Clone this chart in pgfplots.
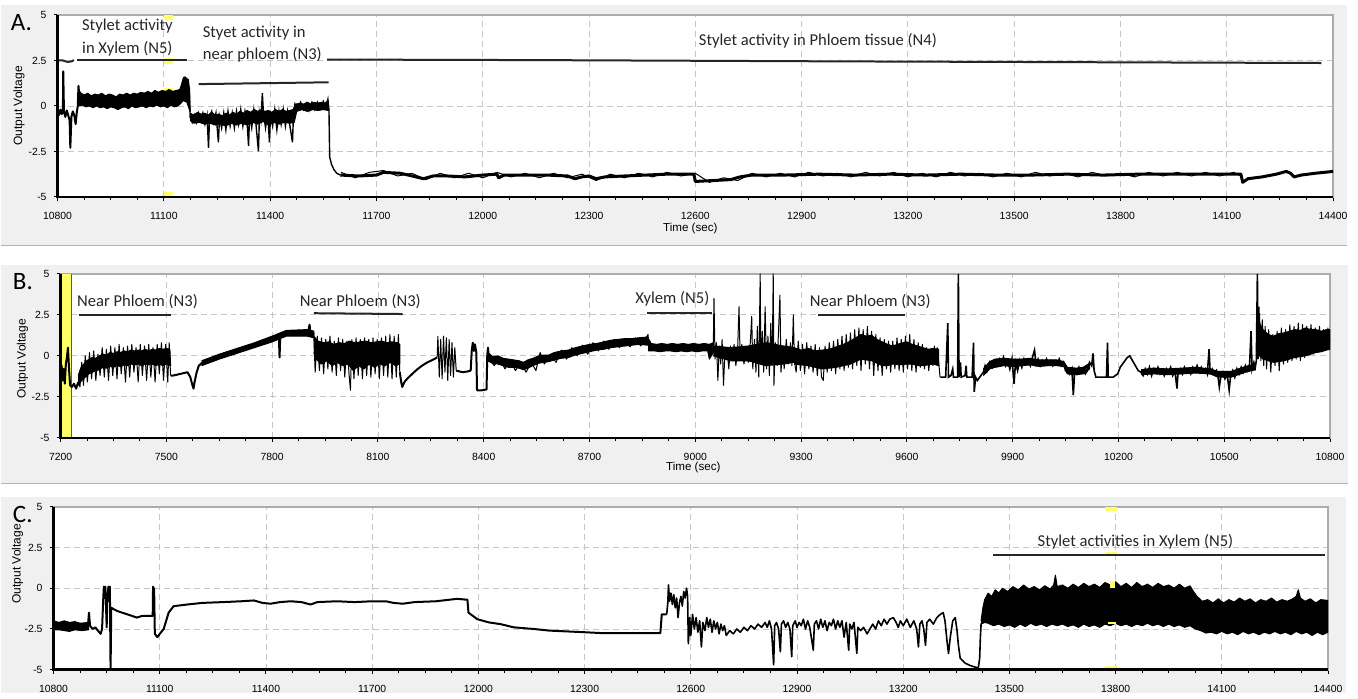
\documentclass[border=0pt]{standalone}
\usepackage{pgfplots}
\pgfplotsset{compat=1.18}
\usepackage{fontspec}
\setmainfont{Carlito}
\newfontfamily\arialf{Liberation Sans}

\definecolor{panelgray}{HTML}{F0F0F0}
\definecolor{cursor}{HTML}{FFFF66}

\tikzset{notext/.style={font=\fontsize{8.3}{11.2}\selectfont, text=black!85}}
\pgfplotsset{
  epg/.style={
    scale only axis, anchor=south west,
    ymin=-5, ymax=5,
    ytick={-5,-2.5,0,2.5,5},
    yticklabels={-5,-2.5,0,2.5,5},
    scaled x ticks=false, scaled y ticks=false,
    tick pos=left, tick align=outside,
    major tick length=2pt, minor tick length=1.5pt,
    minor x tick num=3,
    tick style={black, line width=0.5pt},
    grid=major,
    major grid style={densely dashed, gray!45, line width=0.4pt},
    axis line style={gray!65, line width=1pt},
    axis background/.style={fill=white},
    ticklabel style={font=\arialf\fontsize{5.2}{6}\selectfont},
    xticklabel style={yshift=-2pt},
  },
  trace/.style={black, line width=1pt, line join=round},
  thin/.style={black, line width=0.5pt, line join=round},
  band/.style={black, fill=black, line width=0.5pt, line join=round},
  note/.style={black!85, line width=1pt},
  yel/.style={fill=cursor, draw=none},
}

\begin{document}
\begin{tikzpicture}
\fill[white] (0,0) rectangle (679pt,346.5pt);
\fill[panelgray] (0,224pt) rectangle (673.5pt,344pt);
\fill[panelgray] (0,105pt) rectangle (674pt,214pt);
\fill[panelgray] (0,0) rectangle (673pt,98pt);
\draw[gray!60, line width=0.6pt] (0,223.5pt) -- (673.5pt,223.5pt);
\draw[gray!60, line width=0.6pt] (0,104.5pt) -- (674pt,104.5pt);

% ---------------- Panel A ----------------
\begin{axis}[epg, name=A, at={(28.5pt,248pt)}, width=638pt, height=91pt,
  xmin=10800, xmax=14400,
  xtick={10800,11100,...,14400},
  xticklabels={10800,11100,11400,11700,12000,12300,12600,12900,13200,13500,13800,14100,14400}]
\addplot[yel] coordinates {(11099,4.75)(11127,4.75)(11127,5)(11099,5)};
\addplot[yel] coordinates {(11099,2.3)(11127,2.3)(11127,2.65)(11099,2.65)};
\addplot[yel] coordinates {(11099,0.75)(11127,0.75)(11127,1.0)(11099,1.0)};
\addplot[yel] coordinates {(11099,-5)(11127,-5)(11127,-4.75)(11099,-4.75)};
% xylem (N5) band
\addplot[band] coordinates {
(10859,0.9)(10866,0.7)(10875,0.6)(10885,0.7)(10895,0.55)(10905,0.65)(10915,0.6)(10925,0.7)(10935,0.55)(10945,0.65)
(10955,0.6)(10965,0.5)(10975,0.65)(10985,0.6)(10995,0.7)(11005,0.6)(11015,0.7)(11025,0.65)(11035,0.75)(11045,0.7)
(11055,0.8)(11065,0.7)(11075,0.85)(11085,0.75)(11095,0.85)(11105,0.8)(11115,0.9)(11125,0.8)(11135,0.85)(11145,0.9)
(11150,1.2)(11155,1.55)(11160,1.6)(11165,1.5)(11169,1.45)(11172,1.0)(11174,-0.3)
(11172,-0.2)(11165,0.2)(11155,0.3)(11148,0.15)(11140,0.0)(11130,-0.05)(11120,0.05)(11110,-0.1)(11100,0.0)(11090,-0.05)
(11080,0.05)(11070,-0.05)(11060,0.0)(11050,-0.1)(11040,0.0)(11030,-0.05)(11020,-0.1)(11010,0.0)(11000,-0.15)(10990,-0.05)
(10980,-0.1)(10970,-0.2)(10960,-0.1)(10950,-0.05)(10940,-0.15)(10930,-0.05)(10920,-0.1)(10910,0.0)(10900,-0.1)(10890,0.0)
(10880,-0.05)(10870,0.05)(10860,0.0)};
% near phloem (N3) core
\addplot[band] coordinates {
(11174,-0.4)(11185,-0.5)(11195,-0.35)(11205,-0.45)(11215,-0.4)(11225,-0.5)(11235,-0.35)(11245,-0.5)(11255,-0.45)(11265,-0.55)
(11275,-0.4)(11285,-0.5)(11295,-0.35)(11305,-0.45)(11315,-0.3)(11325,-0.4)(11335,-0.25)(11345,-0.35)(11355,-0.2)(11365,-0.3)
(11375,-0.2)(11385,-0.3)(11395,-0.25)(11405,-0.35)(11415,-0.2)(11425,-0.3)(11435,-0.2)(11445,-0.3)(11455,-0.25)(11465,-0.2)
(11472,0.1)(11485,0.15)(11495,0.1)(11505,0.2)(11515,0.1)(11525,0.2)(11535,0.15)(11545,0.2)(11555,0.15)(11563,0.3)
(11565,-0.25)(11550,-0.2)(11535,-0.25)(11520,-0.2)(11505,-0.3)(11490,-0.2)(11475,-0.3)(11468,-0.9)(11455,-0.95)(11440,-0.9)
(11425,-1.0)(11410,-0.9)(11395,-1.05)(11380,-0.85)(11365,-1.0)(11350,-0.9)(11335,-1.05)(11320,-0.95)(11305,-1.05)(11290,-0.95)
(11275,-1.1)(11260,-1.0)(11245,-1.05)(11230,-0.95)(11215,-1.0)(11200,-0.9)(11185,-0.95)(11174,-0.8)};
\addplot[trace] coordinates {
(10800,-0.3)(10804,-0.5)(10808,-0.2)(10812,-0.45)(10815,-0.3)(10816,1.9)(10818,-0.3)(10822,-0.6)(10826,-0.25)(10830,-0.5)
(10834,-0.8)(10836,-2.3)(10839,-0.6)(10843,-0.3)(10847,-0.5)(10851,-1.0)(10854,-0.4)(10857,0.0)(10859,1.1)(10862,0.4)};
\addplot[black, line width=0.7pt] coordinates {
(11172,1.0)(11174,-0.6)(11180,-0.9)(11186,-0.5)(11192,-0.9)(11198,-0.4)(11204,-0.8)(11210,-0.4)(11216,-1.0)(11222,-0.5)
(11226,-2.3)(11229,-0.6)(11235,-0.3)(11241,-0.9)(11247,-0.4)(11254,-2.0)(11257,-0.6)(11263,-1.2)(11269,-0.4)(11275,-1.3)
(11281,-0.3)(11287,-1.1)(11293,-0.4)(11299,-1.2)(11305,-0.3)(11311,-1.0)(11317,-0.2)(11323,-1.1)(11329,-0.3)(11335,-0.9)
(11339,-2.2)(11342,-0.5)(11348,-1.2)(11354,-0.2)(11360,-1.0)(11367,-2.5)(11370,-0.4)(11374,-0.8)(11378,0.7)(11381,-0.4)
(11387,-1.2)(11393,-0.3)(11398,-2.0)(11401,-0.5)(11407,-1.1)(11413,-0.2)(11419,-1.3)(11425,-0.3)(11431,-1.0)(11437,-0.2)
(11443,-1.1)(11449,-0.3)(11455,-1.0)(11463,-2.0)(11466,-0.4)(11470,0.1)(11478,-0.2)(11486,0.2)(11494,-0.2)(11502,0.15)
(11510,-0.25)(11518,0.2)(11526,-0.2)(11534,0.2)(11542,-0.15)(11550,0.25)(11558,-0.1)(11563,0.35)(11566,-0.2)(11568,-2.8)
(11573,-3.2)(11580,-3.5)(11588,-3.7)(11598,-3.8)};
\addplot[black, line width=1.5pt, line join=round] coordinates {
(11598,-3.8)(11650,-3.85)(11700,-3.8)(11720,-3.65)(11767,-3.7)(11790,-3.8)(11833,-4.0)(11860,-3.85)(11900,-3.85)(11950,-3.9)
(12000,-3.8)(12040,-3.75)(12045,-3.95)(12060,-3.8)(12120,-3.8)(12180,-3.8)(12240,-3.85)(12260,-4.0)(12280,-3.9)(12300,-3.85)
(12320,-4.0)(12345,-3.9)(12400,-3.85)(12460,-3.8)(12520,-3.75)(12596,-3.75)(12600,-4.15)(12650,-4.1)(12700,-4.05)(12726,-3.9)
(12760,-3.8)(12850,-3.8)(12950,-3.75)(13050,-3.8)(13150,-3.75)(13250,-3.8)(13350,-3.75)(13450,-3.8)(13550,-3.8)(13650,-3.75)
(13750,-3.8)(13850,-3.75)(13950,-3.75)(14050,-3.75)(14140,-3.75)(14145,-4.2)(14160,-4.0)(14200,-3.9)(14240,-3.75)(14268,-3.6)
(14280,-3.7)(14290,-3.9)(14310,-3.8)(14350,-3.7)(14400,-3.6)};
\addplot[thin] coordinates {
(11600,-3.65)(11640,-3.95)(11680,-3.65)(11720,-3.55)(11760,-3.85)(11800,-3.7)(11840,-4.05)(11880,-3.7)(11920,-3.95)(11960,-3.7)
(12000,-3.95)(12040,-3.65)(12080,-3.9)(12120,-3.7)(12160,-3.95)(12200,-3.7)(12240,-3.95)(12280,-3.75)(12320,-4.1)(12360,-3.75)
(12400,-3.95)(12440,-3.7)(12480,-3.9)(12520,-3.65)(12560,-3.85)(12600,-3.7)(12640,-4.2)(12680,-3.95)(12720,-4.1)(12760,-3.7)
(12800,-3.9)(12840,-3.7)(12880,-3.9)(12920,-3.65)(12960,-3.85)(13000,-3.7)(13040,-3.9)(13080,-3.65)(13120,-3.85)(13160,-3.65)
(13200,-3.9)(13240,-3.7)(13280,-3.9)(13320,-3.65)(13360,-3.85)(13400,-3.7)(13440,-3.9)(13480,-3.7)(13520,-3.9)(13560,-3.65)
(13600,-3.85)(13640,-3.7)(13680,-3.9)(13720,-3.65)(13760,-3.85)(13800,-3.7)(13840,-3.9)(13880,-3.65)(13920,-3.85)(13960,-3.65)
(14000,-3.85)(14040,-3.65)(14080,-3.85)(14120,-3.65)(14140,-3.85)};
\addplot[note] coordinates {(10800,2.5)(10815,2.5)(10828,2.42)(10840,2.45)(10846,2.52)};
\addplot[note] coordinates {(10856,2.5)(11166,2.5)};
\addplot[note] coordinates {(11198,1.2)(11565,1.3)};
\addplot[note] coordinates {(11561,2.55)(12150,2.52)(13000,2.45)(14367,2.36)};
\node[notext, align=center] at (axis cs:10997,3.75) {Stylet activity\\in Xylem (N5)};
\node[notext, align=left, anchor=west] at (axis cs:11190,3.4) {Styet activity in\\near phloem (N3)};
\node[notext] at (axis cs:12946,3.57) {Stylet activity in Phloem tissue (N4)};
\end{axis}
\draw[black, line width=1.3pt] (A.north west) -- (A.south west) -- (A.south east);

% ---------------- Panel B ----------------
\begin{axis}[epg, name=B, at={(30pt,127.5pt)}, width=635pt, height=82pt,
  xmin=7200, xmax=10800,
  xtick={7200,7500,...,10800},
  xticklabels={7200,7500,7800,8100,8400,8700,9000,9300,9600,9900,10200,10500,10800}]
\addplot[yel] coordinates {(7200,-5)(7231,-5)(7231,5)(7200,5)};
\addplot[gray!70!black, line width=0.6pt] coordinates {(7231,-5)(7231,5)};
% bands
\addplot[band] coordinates {
(7250,-1.2)(7258,-0.7)(7266,-0.5)(7274,-0.3)(7282,-0.2)(7290,-0.1)(7300,-0.15)(7310,0.0)(7320,0.1)(7330,0.05)
(7340,0.2)(7350,0.15)(7360,0.25)(7370,0.2)(7380,0.3)(7390,0.25)(7400,0.35)(7410,0.3)(7420,0.35)(7430,0.3)
(7440,0.4)(7450,0.3)(7460,0.4)(7470,0.35)(7480,0.45)(7490,0.4)(7500,0.45)(7510,0.4)
(7512,-0.6)(7500,-0.5)(7490,-0.6)(7480,-0.5)(7470,-0.6)(7460,-0.5)(7450,-0.55)(7440,-0.5)(7430,-0.6)(7420,-0.5)
(7410,-0.55)(7400,-0.5)(7390,-0.6)(7380,-0.55)(7370,-0.65)(7360,-0.6)(7350,-0.7)(7340,-0.65)(7330,-0.75)(7320,-0.7)
(7310,-0.85)(7300,-0.9)(7290,-1.0)(7280,-1.1)(7270,-1.3)(7260,-1.5)(7250,-1.8)};
\addplot[band] coordinates {
(7600,-0.3)(7650,0.1)(7700,0.45)(7750,0.8)(7800,1.2)(7840,1.55)(7900,1.6)(7918,1.5)
(7918,1.1)(7900,1.2)(7840,1.2)(7800,0.85)(7750,0.5)(7700,0.15)(7650,-0.2)(7600,-0.6)};
\addplot[band] coordinates {
(7918,1.2)(7930,0.9)(7945,0.8)(7960,0.85)(7975,0.7)(7990,0.8)(8005,0.75)(8020,0.9)(8035,0.8)(8050,0.85)
(8065,0.9)(8080,0.8)(8095,0.85)(8110,0.9)(8125,0.8)(8140,0.85)(8155,0.8)(8162,0.7)
(8162,-0.5)(8150,-0.6)(8135,-0.4)(8120,-0.6)(8105,-0.5)(8090,-0.7)(8075,-0.5)(8060,-0.8)(8045,-0.6)(8030,-0.9)
(8015,-0.5)(8000,-0.6)(7985,-0.4)(7970,-0.6)(7955,-0.3)(7940,-0.5)(7925,-0.2)(7918,0.2)};
\addplot[band] coordinates {
(8410,0.25)(8425,-0.05)(8440,0.0)(8455,-0.15)(8470,-0.2)(8485,-0.25)(8500,-0.3)(8513,-0.4)(8525,-0.25)(8540,-0.15)
(8555,0.0)(8570,0.05)(8585,0.05)(8600,0.2)(8620,0.3)(8640,0.35)(8660,0.5)(8680,0.6)(8700,0.7)(8720,0.75)
(8740,0.85)(8760,0.95)(8780,1.0)(8800,1.05)(8820,1.05)(8840,1.1)(8866,1.15)
(8866,0.65)(8840,0.7)(8820,0.65)(8800,0.6)(8780,0.55)(8760,0.5)(8740,0.4)(8720,0.35)(8700,0.25)(8680,0.15)
(8660,0.05)(8640,-0.1)(8620,-0.15)(8600,-0.25)(8585,-0.35)(8570,-0.4)(8555,-0.45)(8540,-0.6)(8525,-0.75)(8513,-0.85)
(8500,-0.75)(8485,-0.7)(8470,-0.7)(8455,-0.6)(8440,-0.5)(8425,-0.45)(8410,-0.3)};
\addplot[band] coordinates {
(8866,1.1)(8875,0.75)(8890,0.7)(8905,0.75)(8920,0.7)(8935,0.75)(8950,0.7)(8965,0.75)(8980,0.7)(8995,0.75)
(9010,0.7)(9025,0.75)(9040,0.7)(9051,0.8)
(9051,0.2)(9040,-0.2)(9035,0.3)(9020,0.3)(9005,0.25)(8990,0.3)(8975,0.25)(8960,0.3)(8945,0.25)(8930,0.3)
(8915,0.3)(8900,0.25)(8885,0.3)(8866,0.3)};
\addplot[band] coordinates {
(9051,0.6)(9100,0.5)(9150,0.6)(9200,0.8)(9250,0.6)(9280,0.5)
(9280,-0.4)(9250,-0.5)(9200,-0.6)(9150,-0.3)(9100,-0.3)(9051,0.0)};
\addplot[band] coordinates {
(9280,0.5)(9300,0.35)(9320,0.45)(9340,0.3)(9360,0.35)(9380,0.4)(9400,0.55)(9420,0.7)(9440,0.9)(9455,1.1)
(9470,1.3)(9485,1.2)(9500,1.25)(9515,1.0)(9530,0.85)(9545,0.7)(9560,0.6)(9580,0.75)(9600,0.85)(9615,0.7)
(9630,0.6)(9645,0.5)(9660,0.4)(9675,0.45)(9690,0.4)
(9690,-0.6)(9675,-0.5)(9660,-0.55)(9645,-0.6)(9630,-0.6)(9615,-0.5)(9600,-0.5)(9580,-0.55)(9560,-0.5)(9545,-0.6)
(9530,-0.6)(9515,-0.45)(9500,-0.3)(9485,-0.25)(9470,-0.2)(9455,-0.35)(9440,-0.5)(9420,-0.6)(9400,-0.7)(9380,-0.75)
(9360,-0.8)(9340,-0.7)(9320,-0.6)(9300,-0.55)(9280,-0.5)};
\addplot[band] coordinates {
(9817,-0.8)(9835,-0.35)(9850,-0.2)(9875,-0.15)(9900,-0.2)(9925,-0.2)(9950,-0.15)(9975,-0.25)(10000,-0.25)(10025,-0.25)
(10045,-0.35)(10055,-0.7)(10080,-0.75)(10100,-0.7)(10118,-0.45)
(10118,-0.8)(10100,-1.1)(10080,-1.15)(10055,-1.1)(10045,-0.65)(10025,-0.6)(10000,-0.6)(9975,-0.65)(9950,-0.55)(9925,-0.6)
(9900,-0.65)(9875,-0.6)(9850,-0.7)(9835,-0.8)(9817,-1.2)};
\addplot[band] coordinates {
(10264,-0.85)(10300,-0.75)(10340,-0.8)(10380,-0.75)(10420,-0.7)(10460,-0.8)(10482,-0.95)(10520,-0.95)(10560,-0.65)(10588,-0.5)
(10588,-0.85)(10560,-1.0)(10520,-1.3)(10482,-1.3)(10460,-1.1)(10420,-1.05)(10380,-1.1)(10340,-1.15)(10300,-1.1)(10264,-1.15)};
\addplot[band] coordinates {
(10600,2.0)(10610,1.6)(10625,1.3)(10640,1.2)(10655,1.35)(10670,1.4)(10685,1.5)(10700,1.6)(10715,1.55)(10730,1.7)
(10745,1.6)(10760,1.6)(10775,1.5)(10790,1.6)(10800,1.6)
(10800,0.4)(10790,0.35)(10775,0.25)(10760,0.2)(10745,0.1)(10730,0.0)(10715,-0.05)(10700,-0.1)(10685,-0.2)(10670,-0.3)
(10655,-0.35)(10640,-0.4)(10625,-0.3)(10610,-0.2)(10600,0.0)};
% slow parts of the trace
\addplot[trace] coordinates {
(7200,-1.0)(7203,-0.6)(7206,-1.5)(7209,-0.8)(7212,-1.7)(7215,-0.5)(7218,-0.1)(7221,0.5)(7224,-0.8)(7227,-1.8)
(7232,-1.9)(7238,-1.7)(7244,-2.0)(7250,-1.6)};
\addplot[trace] coordinates {
(7512,-1.2)(7520,-1.2)(7540,-1.1)(7560,-1.0)(7568,-1.3)(7574,-1.8)(7577,-2.0)(7580,-1.6)(7586,-1.0)(7592,-0.6)
(7600,-0.45)(7620,-0.3)(7640,-0.15)(7660,0.0)(7680,0.15)(7700,0.3)(7720,0.45)(7740,0.6)(7760,0.75)(7780,0.9)
(7800,1.05)(7815,1.2)(7819,1.3)(7821,-0.1)(7823,1.25)(7835,1.4)(7850,1.45)(7865,1.35)(7880,1.4)(7895,1.5)
(7903,1.55)(7906,1.9)(7909,1.4)(7914,1.5)(7918,1.3)};
\addplot[trace] coordinates {
(8162,-1.0)(8166,-1.6)(8169,-1.9)(8175,-1.6)(8185,-1.35)(8195,-1.15)(8210,-0.85)(8225,-0.6)(8240,-0.4)(8255,-0.25)
(8268,-0.1)};
\addplot[trace] coordinates {
(8322,-0.9)(8340,-1.0)(8355,-0.95)(8363,-0.9)(8366,0.3)(8369,0.8)(8372,0.3)(8375,0.7)(8379,0.2)(8381,-2.1)
(8395,-2.1)(8408,-2.05)(8410,0.0)(8412,0.5)(8415,-0.2)};
\addplot[black, line width=0.8pt] coordinates {
(9695,-1.3)(9710,-1.3)(9716,2.0)(9718,-1.3)(9725,-1.2)(9730,-0.8)(9732,-1.3)(9744,-1.3)(9746,5)(9748,-1.3)
(9752,-0.4)(9754,-1.3)(9765,-1.2)(9768,-0.6)(9770,-1.3)(9785,-1.3)(9789,0.8)(9791,-2.2)(9795,-1.3)(9800,-1.5)
(9810,-1.2)(9817,-1.0)(9822,-0.6)(9828,-0.9)(9835,-0.4)(9842,-0.7)(9849,-0.3)(9856,-0.6)(9862,-0.2)(9868,-0.5)
(9874,-0.1)(9880,-0.6)(9886,-0.3)(9892,-0.8)(9898,-0.2)(9904,-1.7)(9908,-0.4)(9914,-0.9)(9920,-0.3)(9926,-0.7)
(9932,-0.2)(9938,-0.5)(9944,-0.3)(9950,-0.6)(9956,-0.1)(9962,0.35)(9966,-0.5)(9972,-0.2)(9978,-0.6)(9984,-0.3)
(9990,-0.5)(9996,-0.2)(10002,-0.5)(10008,-0.3)(10014,-0.6)(10020,-0.3)(10026,-0.5)(10032,-0.2)(10038,-0.6)(10044,-0.4)
(10050,-0.9)(10056,-0.8)(10062,-1.1)(10068,-0.8)(10072,-2.4)(10076,-0.9)(10082,-1.1)(10088,-0.7)(10094,-1.0)(10100,-0.8)
(10106,-1.1)(10112,-0.9)(10118,-0.4)(10124,-0.6)(10128,0.15)(10131,-0.9)(10136,-1.3)(10150,-1.3)(10166,-1.3)(10169,0.8)
(10171,-1.3)(10185,-1.3)(10198,-1.1)(10205,-0.7)(10215,-0.4)(10225,-0.1)(10232,0.0)(10240,-0.3)(10248,-0.6)(10256,-0.9)
(10264,-1.0)(10270,-1.2)(10276,-0.8)(10282,-1.1)(10288,-0.7)(10294,-1.2)(10300,-0.8)(10306,-1.0)(10312,-0.7)(10318,-1.1)
(10324,-0.9)(10330,-1.2)(10336,-0.8)(10342,-1.0)(10348,-0.7)(10354,-1.2)(10360,-0.9)(10366,-2.0)(10369,-1.0)(10375,-0.8)
(10381,-1.1)(10387,-0.7)(10393,-1.0)(10399,-0.8)(10405,-1.1)(10411,-0.7)(10417,-0.9)(10423,-0.6)(10429,-1.0)(10435,-0.7)
(10441,-1.0)(10447,-0.8)(10452,-1.1)(10457,0.4)(10460,-1.0)(10466,-0.8)(10472,-1.1)(10478,-0.9)(10482,-1.2)(10486,-1.9)
(10490,-1.3)(10496,-1.0)(10502,-1.4)(10508,-1.1)(10514,-2.1)(10518,-1.2)(10524,-0.9)(10530,-1.3)(10536,-0.8)(10542,-1.1)
(10548,-0.7)(10554,-1.0)(10560,-0.6)(10566,-0.9)(10572,-0.5)(10576,1.5)(10579,-0.8)(10584,-0.4)(10588,-0.7)(10591,-0.3)
(10594,5)(10596,-0.2)(10598,3.0)(10600,0.0)};
% spiky parts of the trace
\addplot[thin] coordinates {
(7250,-1.6)(7255,-1.9)(7260,-0.4)(7265,-1.8)(7270,0.0)(7276,-1.6)(7282,0.2)(7288,-1.4)(7294,0.3)(7300,-1.5)
(7306,0.1)(7312,-1.2)(7318,0.5)(7324,-1.3)(7330,0.4)(7336,-1.5)(7342,0.6)(7348,-1.2)(7354,0.5)(7360,-1.4)
(7366,0.7)(7372,-1.1)(7378,0.5)(7384,-1.6)(7390,0.6)(7396,-1.3)(7402,0.7)(7408,-1.0)(7414,0.5)(7420,-1.6)
(7426,0.7)(7432,-1.2)(7438,0.6)(7444,-1.5)(7450,0.7)(7456,-1.3)(7462,0.5)(7468,-1.6)(7474,0.7)(7480,-1.1)
(7486,0.8)(7492,-1.5)(7498,0.7)(7504,-1.6)(7508,0.8)(7512,-1.2)};
\addplot[thin] coordinates {
(7918,1.3)(7922,-1.0)(7928,1.2)(7934,-0.9)(7940,1.1)(7946,-1.1)(7952,1.0)(7958,-0.8)(7964,1.2)(7970,-1.0)
(7976,0.9)(7982,-1.2)(7988,1.1)(7994,-0.9)(8000,1.0)(8006,-1.3)(8012,0.9)(8018,-1.1)(8022,-2.1)(8026,1.0)
(8032,-1.4)(8038,1.1)(8044,-1.2)(8050,1.0)(8056,-1.4)(8062,1.1)(8068,-1.2)(8074,1.0)(8080,-1.3)(8086,1.1)
(8092,-1.1)(8098,1.0)(8104,-1.4)(8110,1.1)(8116,-1.2)(8122,1.2)(8128,-1.3)(8134,1.3)(8140,-1.4)(8146,1.2)
(8152,-1.3)(8158,1.3)(8162,-1.0)};
\addplot[thin] coordinates {
(8268,-0.1)(8270,1.2)(8274,-1.3)(8278,1.0)(8282,-1.4)(8286,1.2)(8290,-1.0)(8294,1.1)(8298,-1.5)(8302,1.0)
(8306,-1.2)(8310,0.8)(8314,-1.3)(8318,0.5)(8322,-0.9)};
\addplot[thin] coordinates {
(8415,-0.2)(8430,-0.6)(8445,-0.1)(8460,-0.8)(8475,-0.3)(8490,-0.9)(8505,-0.4)(8520,-1.0)(8535,-0.4)(8548,-0.9)
(8560,0.2)(8572,-0.5)(8590,0.1)(8605,-0.4)(8620,0.35)(8635,-0.2)(8650,0.5)(8665,0.0)(8680,0.65)(8695,0.1)
(8710,0.8)(8725,0.3)(8740,0.9)(8755,0.4)(8770,1.0)(8785,0.5)(8800,1.0)(8815,0.55)(8830,1.1)(8845,0.6)
(8860,1.1)(8866,1.3)(8868,0.5)};
\addplot[thin] coordinates {
(9051,0.5)(9053,3.5)(9056,-0.2)(9060,0.8)(9064,-1.5)(9068,0.6)(9072,-0.5)(9076,1.0)(9080,-1.8)(9084,0.2)
(9090,0.5)(9095,-0.8)(9100,0.6)(9105,-0.3)(9110,0.7)(9115,-0.6)(9120,0.4)(9124,3.0)(9127,0.0)(9132,0.7)
(9138,-0.5)(9144,0.4)(9150,-0.4)(9156,0.8)(9160,2.4)(9163,-0.8)(9168,1.0)(9172,-1.0)(9176,1.8)(9180,-1.3)
(9184,5)(9186,-0.5)(9190,1.5)(9194,-1.0)(9198,3.0)(9202,-0.8)(9206,1.2)(9210,-1.2)(9214,2.0)(9218,-0.5)
(9221,5)(9223,-1.8)(9227,0.8)(9232,-0.6)(9236,1.5)(9240,3.7)(9243,-1.0)(9248,0.6)(9252,-0.8)(9258,1.0)
(9264,-0.5)(9270,0.8)(9274,-0.6)(9278,2.5)(9281,-0.3)
(9286,-1.0)(9292,0.9)(9298,-0.9)(9304,0.7)(9310,-1.1)(9316,0.8)(9322,-0.8)(9328,0.6)(9334,-1.0)(9340,0.7)
(9346,-1.2)(9352,0.5)(9358,-1.3)(9363,-1.5)(9368,0.6)(9374,-1.0)(9380,0.8)(9386,-0.9)(9392,0.9)(9398,-1.1)
(9404,1.0)(9410,-0.8)(9416,1.2)(9422,-0.9)(9428,1.3)(9434,-0.7)(9440,1.4)(9446,-0.8)(9452,1.6)(9458,-0.6)
(9464,1.7)(9470,-0.9)(9476,1.6)(9482,-0.5)(9488,1.8)(9494,-0.8)(9500,1.5)(9506,-1.2)(9512,1.3)(9518,-0.9)
(9524,1.1)(9530,-1.2)(9536,1.0)(9542,-0.8)(9548,0.9)(9554,-1.0)(9560,0.9)(9566,-0.8)(9572,1.1)(9578,-0.9)
(9584,1.0)(9590,-1.0)(9596,1.2)(9602,-0.8)(9608,1.3)(9614,-0.9)(9620,1.0)(9626,-1.0)(9632,0.8)(9638,-0.7)
(9644,0.7)(9650,-0.8)(9656,0.5)(9662,-0.9)(9668,0.3)(9674,-0.6)(9678,0.6)(9682,-0.5)(9686,0.5)(9690,-0.3)
(9694,-1.3)};
\addplot[thin] coordinates {
(10600,2.6)(10604,-0.3)(10608,2.2)(10612,-0.6)(10616,1.8)(10620,-0.8)(10626,1.6)(10632,-1.0)(10638,1.3)(10644,-0.6)
(10650,1.5)(10656,-0.9)(10662,1.7)(10668,-0.5)(10674,1.6)(10680,-0.4)(10686,1.9)(10692,-0.3)(10698,1.8)(10704,-0.2)
(10710,2.0)(10716,-0.3)(10722,1.9)(10728,-0.1)(10734,1.8)(10740,0.0)(10746,1.9)(10752,0.1)(10758,1.7)(10764,0.2)
(10770,1.8)(10776,0.3)(10782,1.6)(10788,0.4)(10794,1.7)(10800,0.8)};
\addplot[note] coordinates {(7251,2.5)(7512,2.5)};
\addplot[note] coordinates {(7918,2.6)(8170,2.55)};
\addplot[note] coordinates {(8864,2.6)(9048,2.6)};
\addplot[note] coordinates {(9349,2.5)(9596,2.5)};
\node[notext] at (axis cs:7418,3.3) {Near Phloem (N3)};
\node[notext] at (axis cs:8050,3.3) {Near Phloem (N3)};
\node[notext] at (axis cs:8935,3.5) {Xylem (N5)};
\node[notext] at (axis cs:9496,3.3) {Near Phloem (N3)};
\end{axis}
\draw[black, line width=1.3pt] (B.north west) -- (B.south west) -- (B.south east);

% ---------------- Panel C ----------------
\begin{axis}[epg, name=C, at={(26.5pt,11.5pt)}, width=637.5pt, height=81.5pt,
  xmin=10800, xmax=14400,
  xtick={10800,11100,...,14400},
  xticklabels={10800,11100,11400,11700,12000,12300,12600,12900,13200,13500,13800,14100,14400}]
\addplot[yel] coordinates {(13771,4.75)(13805,4.75)(13805,5)(13771,5)};
\addplot[yel] coordinates {(13771,1.95)(13805,1.95)(13805,2.2)(13771,2.2)};
\addplot[yel] coordinates {(13771,-5)(13805,-5)(13805,-4.75)(13771,-4.75)};
\addplot[band] coordinates {
(10800,-2.0)(10815,-2.1)(10830,-2.0)(10845,-2.1)(10860,-2.05)(10875,-2.15)(10899,-2.1)
(10899,-2.55)(10880,-2.6)(10860,-2.55)(10845,-2.65)(10830,-2.6)(10815,-2.55)(10800,-2.55)};
\addplot[band] coordinates {
(13420,-2.0)(13425,-1.2)(13430,-0.7)(13440,-0.3)(13450,-0.5)(13460,-0.1)(13470,-0.3)(13480,0.0)(13495,-0.2)(13510,0.1)
(13525,-0.1)(13540,0.2)(13555,-0.05)(13570,0.1)(13585,-0.1)(13600,0.15)(13615,-0.05)(13625,0.2)(13630,0.8)(13635,0.1)
(13650,0.2)(13665,0.0)(13680,0.25)(13695,0.05)(13710,0.3)(13725,0.1)(13740,0.25)(13755,0.05)(13770,0.35)(13785,0.2)
(13800,0.4)(13815,0.1)(13830,0.3)(13845,0.05)(13860,0.35)(13875,0.1)(13890,0.25)(13905,0.05)(13920,0.3)(13935,0.1)
(13950,0.2)(13965,0.0)(13980,0.25)(13995,0.0)(14010,0.15)(14020,-0.2)(14030,-0.5)(14045,-0.8)(14060,-0.7)(14075,-0.9)
(14090,-0.65)(14105,-0.9)(14120,-0.7)(14135,-0.85)(14150,-0.6)(14165,-0.8)(14180,-0.65)(14195,-0.9)(14210,-0.7)(14225,-0.8)
(14240,-0.6)(14255,-0.85)(14270,-0.7)(14285,-0.8)(14300,-0.65)(14310,-0.5)(14316,-0.1)(14322,-0.6)(14335,-0.8)(14350,-0.65)
(14365,-0.9)(14380,-0.7)(14400,-0.75)
(14400,-2.7)(14385,-2.85)(14370,-2.7)(14355,-2.9)(14340,-2.7)(14325,-2.8)(14310,-2.65)(14295,-2.85)(14280,-2.7)(14265,-2.8)
(14250,-2.65)(14235,-2.8)(14220,-2.7)(14205,-2.85)(14190,-2.7)(14175,-2.8)(14160,-2.65)(14145,-2.85)(14130,-2.7)(14115,-2.8)
(14100,-2.65)(14085,-2.8)(14070,-2.7)(14055,-2.75)(14040,-2.6)(14025,-2.5)(14010,-2.3)(13995,-2.4)(13980,-2.25)(13965,-2.35)
(13950,-2.2)(13935,-2.35)(13920,-2.2)(13905,-2.3)(13890,-2.15)(13875,-2.3)(13860,-2.2)(13845,-2.35)(13830,-2.2)(13815,-2.3)
(13800,-2.15)(13785,-2.3)(13770,-2.2)(13755,-2.4)(13740,-2.25)(13725,-2.35)(13710,-2.2)(13695,-2.4)(13680,-2.25)(13665,-2.35)
(13650,-2.2)(13635,-2.3)(13620,-2.2)(13605,-2.35)(13590,-2.2)(13575,-2.3)(13560,-2.15)(13545,-2.35)(13530,-2.2)(13515,-2.4)
(13500,-2.25)(13485,-2.35)(13470,-2.2)(13455,-2.3)(13440,-2.15)(13430,-2.1)(13420,-2.2)};
\addplot[yel] coordinates {(13783,0.0)(13797,0.0)(13797,0.45)(13783,0.45)};
\addplot[yel] coordinates {(13778,-2.05)(13802,-2.05)(13802,-2.2)(13778,-2.2)};
\addplot[trace] coordinates {
(10800,-2.3)(10810,-2.4)(10820,-2.2)(10840,-2.4)(10860,-2.3)(10880,-2.4)(10897,-2.3)(10900,-1.5)(10903,-2.3)(10910,-2.5)
(10918,-2.4)(10925,-2.6)(10933,-2.8)(10937,-2.5)(10940,-0.8)(10942,0.1)(10944,-0.6)(10946,0.1)(10948,-1.0)(10950,-2.4)
(10952,-0.5)(10955,0.1)(10957,-0.8)(10959,0.1)(10961,-5)(10963,-1.2)(10980,-1.4)(11008,-1.6)(11035,-1.8)(11050,-1.7)
(11078,-1.7)(11080,-1.7)(11081,0.1)(11083,-0.5)(11084,0.0)(11086,-2.8)(11093,-3.0)(11100,-2.8)(11111,-2.5)(11118,-2.0)
(11125,-1.5)(11139,-1.1)(11177,-1.0)(11220,-0.9)(11280,-0.85)(11330,-0.8)(11366,-0.75)(11390,-0.9)(11413,-0.95)(11440,-0.85)
(11470,-0.8)(11500,-0.85)(11526,-1.0)(11545,-0.85)(11600,-0.8)(11650,-0.85)(11700,-0.8)(11739,-0.8)(11760,-0.9)(11786,-0.95)
(11820,-0.85)(11880,-0.8)(11920,-0.7)(11940,-0.65)(11965,-0.7)(11969,-0.7)(11972,-1.5)(11997,-1.9)(12030,-2.1)(12062,-2.2)
(12100,-2.4)(12156,-2.5)(12200,-2.6)(12250,-2.65)(12300,-2.7)(12345,-2.75)(12400,-2.75)(12460,-2.75)(12514,-2.75)(12518,-1.6)
(12532,-1.6)};
\addplot[black, line width=0.8pt, line join=round] coordinates {
(12532,-1.6)(12535,-0.9)(12537,0.2)(12540,-0.8)(12544,-0.3)(12548,-1.0)(12552,-0.4)(12556,-1.2)(12560,-0.6)(12564,-1.8)
(12568,-0.9)(12572,-0.5)(12576,-1.1)(12580,-0.2)(12584,-0.6)(12588,0.0)(12591,-0.5)(12593,-3.4)(12597,-1.8)(12600,-2.9)
(12605,-1.6)(12610,-2.5)(12615,-1.8)(12620,-2.7)(12625,-2.0)(12630,-3.6)(12634,-2.1)(12640,-2.6)(12645,-1.8)(12650,-2.4)
(12655,-1.9)(12660,-2.7)(12665,-2.0)(12670,-2.5)(12675,-2.1)(12680,-2.8)(12685,-2.2)(12690,-2.6)(12695,-2.3)(12700,-2.9)
(12710,-2.6)(12720,-2.8)(12730,-2.5)(12740,-2.7)(12750,-2.4)(12760,-2.6)(12770,-2.3)(12780,-2.5)(12790,-2.2)(12800,-2.4)
(12810,-2.1)(12816,-2.4)(12822,-2.0)(12828,-2.5)(12834,-4.7)(12837,-2.3)(12842,-2.1)(12848,-2.5)(12853,-3.9)(12856,-2.2)
(12862,-2.0)(12868,-2.4)(12874,-2.1)(12880,-2.5)(12885,-4.2)(12888,-2.3)(12895,-2.0)(12900,-2.4)(12906,-2.1)(12912,-2.3)
(12918,-1.9)(12924,-2.5)(12930,-2.0)(12936,-2.4)(12946,-3.8)(12949,-2.2)(12955,-2.0)(12961,-2.5)(12967,-1.9)(12973,-2.4)
(12979,-2.0)(12985,-2.6)(12991,-2.1)(12997,-2.3)(13003,-1.9)(13009,-2.5)(13015,-2.0)(13021,-2.4)(13027,-2.0)(13033,-3.0)
(13039,-2.1)(13046,-3.8)(13049,-2.2)(13055,-2.5)(13061,-2.1)(13069,-4.0)(13072,-2.4)(13080,-2.6)(13088,-2.4)(13098,-2.8)
(13106,-2.5)(13114,-2.2)(13122,-2.5)(13130,-2.0)(13138,-2.3)(13146,-1.9)(13154,-2.2)(13162,-1.9)(13172,-1.8)(13180,-2.1)
(13186,-2.4)(13192,-2.0)(13200,-2.3)(13210,-1.9)(13220,-2.4)(13230,-2.0)(13238,-2.5)(13243,-3.6)(13247,-2.2)(13253,-2.0)
(13258,-2.5)(13263,-3.5)(13267,-2.1)(13275,-1.9)(13285,-2.2)(13295,-1.8)(13305,-1.6)(13313,-1.5)(13318,-2.0)(13324,-3.3)
(13328,-4.0)(13333,-3.0)(13340,-2.0)(13347,-1.8)(13352,-2.6)(13356,-3.5)(13361,-4.3)(13375,-4.6)(13390,-4.75)(13405,-4.85)
(13412,-4.9)(13416,-4.3)(13418,-3.0)(13420,-2.2)(13425,-2.0)(13432,-1.5)};
\addplot[note] coordinates {(13455,2.05)(14392,2.05)};
\node[notext] at (axis cs:13856,2.85) {Stylet activities in Xylem (N5)};
\end{axis}
\draw[black, line width=1.3pt] (C.north west) -- (C.south west) -- (C.south east);

% labels outside the axes
\node[anchor=base west, inner sep=0, font=\fontsize{12.5}{14}\selectfont] at (5pt,331pt) {A.};
\node[anchor=base west, inner sep=0, font=\fontsize{12.5}{14}\selectfont] at (6pt,201.5pt) {B.};
\node[anchor=base west, inner sep=0, font=\fontsize{12.5}{14}\selectfont] at (6pt,85pt) {C.};
\node[rotate=90, font=\arialf\fontsize{6}{7}\selectfont] at (9.25pt,293.5pt) {Output Voltage};
\node[rotate=90, font=\arialf\fontsize{6}{7}\selectfont] at (11pt,167pt) {Output Voltage};
\node[rotate=90, font=\arialf\fontsize{6}{7}\selectfont] at (8.5pt,64.5pt) {Output Voltage};
\node[font=\arialf\fontsize{5.8}{7}\selectfont] at (345pt,232pt) {Time (sec)};
\node[font=\arialf\fontsize{5.8}{7}\selectfont] at (346.5pt,112.5pt) {Time (sec)};
\end{tikzpicture}
\end{document}
